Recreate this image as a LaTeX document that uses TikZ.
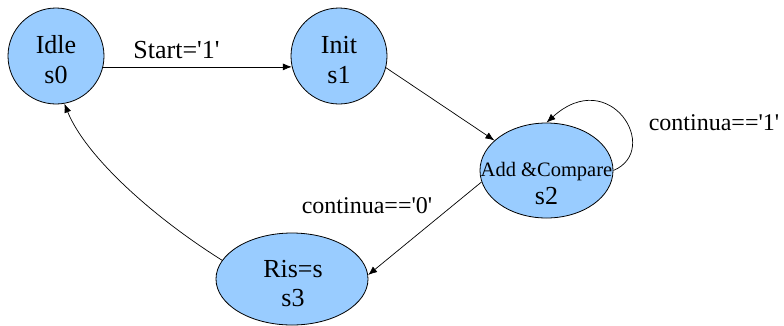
\documentclass[tikz,border=0pt]{standalone}
\usepackage{fontspec}
\setmainfont{Liberation Serif}[Ligatures=TeXOff]
\usetikzlibrary{arrows.meta,shapes.geometric}
\definecolor{statefill}{HTML}{99CCFF}
\tikzset{
  state/.style={draw=black, line width=0.8pt, fill=statefill, inner sep=0pt},
  roundstate/.style={state, circle, minimum size=96pt},
  ovalstate/.style={state, ellipse},
  stxt/.style={anchor=base, inner sep=0pt, font=\fontsize{26}{30}\selectfont},
  smalltxt/.style={anchor=base, inner sep=0pt, font=\fontsize{20.5}{26}\selectfont},
  lbl/.style={anchor=base, inner sep=0pt, font=\fontsize{24}{30}\selectfont},
  trans/.style={draw=black, line width=0.7pt, -{Latex[length=9pt,width=7pt]}}
}
\begin{document}
\begin{tikzpicture}[x=1pt, y=-1pt]
  \useasboundingbox (0,0) rectangle (784,325);
  % states
  \node[roundstate] (idle) at (56,56) {};
  \node[roundstate] (init) at (339,56) {};
  \node[ovalstate, minimum width=133pt, minimum height=95pt] (add) at (546.5,170.5) {};
  \node[ovalstate, minimum width=152pt, minimum height=92pt] (ris) at (292,279) {};
  % state texts
  \node[stxt] (idlename) at (56,53) {Idle};
  \node[stxt] (idlecode) at (56,83) {s0};
  \node[stxt] (initname) at (339,53) {Init};
  \node[stxt] (initcode) at (339,83) {s1};
  \node[smalltxt] (addname) at (546.5,176) {Add \&Compare};
  \node[stxt] (addcode) at (546.5,204) {s2};
  \node[stxt] (risname) at (293,277) {Ris=s};
  \node[stxt] (riscode) at (293,306) {s3};
  % transitions
  \draw[trans] (idle.-13) -- (init.193);
  \draw[trans] (init.-14) -- (add.150);
  \draw[trans] (add.east) .. controls (662,150) and (610,65) .. (add.north);
  \draw[trans] (add.190) -- (ris.3);
  \draw[trans] (ris.165) .. controls (150,215) and (85,155) .. (idle.-80);
  % transition labels
  \node[stxt] (lstart) at (176.5,58) {Start='1'};
  \node[lbl] (lone) at (714,130) {continua=='1'};
  \node[lbl] (lzero) at (367,213) {continua=='0'};
\end{tikzpicture}
\end{document}
